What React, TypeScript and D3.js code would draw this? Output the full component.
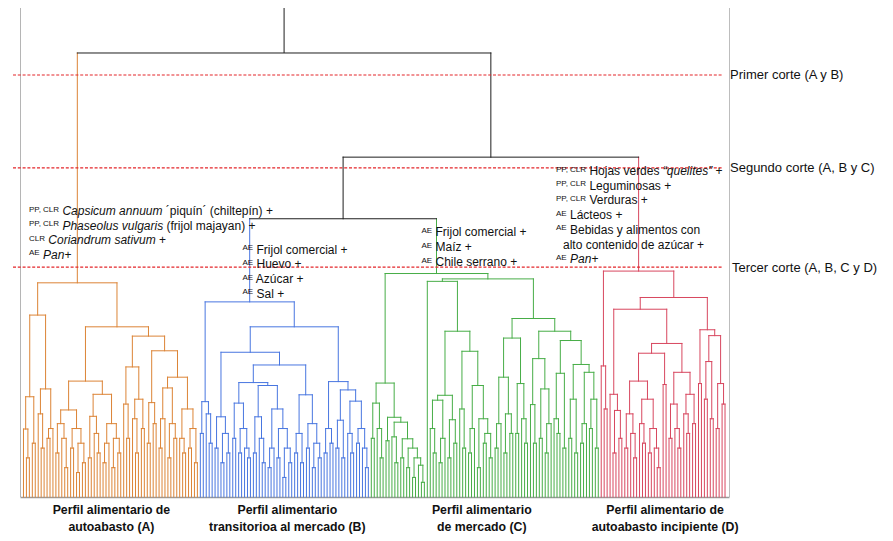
import React, { useMemo } from 'react';
import * as d3 from 'd3';

// dendrogram subtrees, newick-like: "(left,right)height", L = leaf. heights on a 0-100 scale
const A1 = '(((L,(L,L)8)13.9,(L,L)11)20.5,((L,(L,L)10)17,((L,L)12,L)14)22.1)37.2';
const A2a = '((((L,L)9,(L,(L,L)6)12)15,((L,L)10,((L,L)5,(L,L)7)11)14)17.8,(((L,L)8,(L,(L,L)9)13)16.5,(((L,L)7,L)11,((L,L)6,(L,L)9)12)15)21)23.7';
const A2b = '(((L,(L,L)12)19,((L,(L,L)9)16,(L,L)14)20)26.6,(((L,L)11,(L,L)15)19.3,((((L,L)10,L)16,((L,L)8,(L,L)12)15)22.3,((L,(L,L)9)12,((L,L)10,(L,L)7)14)18)24.5)29.9)32.9';
const treeA = `(${A1},(${A2a},${A2b})34.8)43.8`;

const B_left = '((L,L)13,(L,(L,L)11)17)19.5';
const B_a = '((L,L)10,((L,L)7,(L,L)9)13)16.4';
const B_b = '((L,L)12,((L,L)9,(L,(L,L)8)10)14)19.2';
const B_c = '((L,L)9,(L,(L,L)7)12)16.4';
const B_d = '(((L,L)6,L)10,((L,L)8,((L,L)4,(L,L)7)10)14)18';
const B_e = '(((L,L)9,(L,L)7)13,((L,L)10,((L,L)6,(L,L)8)11)15)20.9';
const B_f = '((L,L)9,(L,L)11)14';
const B_g = '((L,L)10,(L,L)8)15.7';
const B_h = '((L,(L,L)9)13,((L,L)11,(L,(L,L)6)10)14)19.6';
const treeB = `(${B_left},((${B_a},((${B_b},(${B_c},${B_d})22.8)23.4,${B_e})27)29.6,(${B_f},(${B_g},${B_h})21.9)23.6)34.8)39.9`;

const C_a = '((L,L)12,(L,(L,L)8)14)19.2';
const C_b = '((L,L)11.5,((L,(L,L)7)12.3,((L,L)8,((L,L)6,((L,L)4,(L,(L,L)3)6.5)8)10)11.9)15.3)16.3';
const C_c = '((L,(L,L)9)14,((L,L)7,L)12)19.8';
const C_d = '((L,L)8,(L,L)11)15.8';
const C_e = '(L,(L,L)10)18';
const C_f = '(((L,L)9,L)14,((L,L)6,((L,L)11,(L,L)8)13)16)22.8';
const C_g = '(((L,L)10,L)15,((L,L)9,(L,L)13)17)24.5';
const C_h = '((L,L)13,(L,(L,L)11)16)23.2';
const C_i = '(L,(L,L)11)18.9';
const C_j = '((L,L)12,((L,L)9,L)15)22.1';
const C_k = '((L,(L,L)13)16,(L,L)10)25.3';
const C_l = '((L,L)12,(L,L)9)20';
const C_m = '(((L,L)11,L)15,((L,L)14,(L,L)10)20)25.5';
const treeC = `((${C_a},${C_b})23.3,((L,((${C_c},${C_d})20.8,(${C_e},${C_f})29.8)33.9)44.1,((${C_g},${C_h})32.5,((${C_i},${C_j})28.3,(${C_k},(${C_l},${C_m})27.1)32)33.9)36.5)44.6)45.7`;

const D_a = '(L,(L,L)18)26.8';
const D_b = '(L,((L,L)9,(L,L)12)17.7)21';
const D_c = '(((L,L)10,(L,(L,L)8)13)17,((L,(L,L)11)15,((L,L)9,(L,(L,L)6)10)14)20)23.7';
const D_d = '(L,L)23';
const D_e = '(((L,L)12,(L,(L,L)10)14)19,((L,(L,L)13)17,(L,L)15)21)25.5';
const D_f = '(L,L)23.2';
const D_g = '((L,L)20,(L,L)16)27.7';
const D_h = '((L,L)14,(L,L)19)23.2';
const treeD = `(${D_a},((${D_b},((${D_c},${D_d})29.4,${D_e})31.4)38.4,(${D_f},(${D_g},${D_h})33)34.2)40.8)46.2`;

const clusterTrees = [treeA, treeB, treeC, treeD];
const clusterColors = ['#dc8436', '#4876e0', '#47ad47', '#d8475f'];
const clusterLabels = [
  ['Perfil alimentario de', 'autoabasto (A)'],
  ['Perfil alimentario', 'transitorioa al mercado (B)'],
  ['Perfil alimentario', 'de mercado (C)'],
  ['Perfil alimentario de', 'autoabasto incipiente (D)']
];
// merges above the clusters: B+C, (B,C)+D, A+resto
const upperHeights = [56.9, 69.5, 90.8];

const cutHeights = [86.3, 67.3, 47.0];
const cutLabels = ['Primer corte (A y B)', 'Segundo corte (A, B y C)', 'Tercer corte (A, B, C y D)'];

type Seg = [string, boolean];
type Line = [string, Seg[]];
const notesA: Line[] = [
  ['PP, CLR', [['Capsicum annuum', true], [' ´piquín´ (chiltepín) +', false]]],
  ['PP, CLR', [['Phaseolus vulgaris', true], [' (frijol majayan) +', false]]],
  ['CLR', [['Coriandrum sativum', true], [' +', false]]],
  ['AE', [['Pan', true], ['+', false]]]
];
const notesB: Line[] = [
  ['AE', [['Frijol comercial +', false]]],
  ['AE', [['Huevo +', false]]],
  ['AE', [['Azúcar +', false]]],
  ['AE', [['Sal +', false]]]
];
const notesC: Line[] = [
  ['AE', [['Frijol comercial +', false]]],
  ['AE', [['Maíz +', false]]],
  ['AE', [['Chile serrano +', false]]]
];
const notesD: Line[] = [
  ['PP, CLR', [['Hojas verdes ', false], ['“quelites”', true], [' +', false]]],
  ['PP, CLR', [['Leguminosas +', false]]],
  ['PP, CLR', [['Verduras +', false]]],
  ['AE', [['Lácteos +', false]]],
  ['AE', [['Bebidas y alimentos con', false]]],
  ['', [['alto contenido de azúcar +', false]]],
  ['AE', [['Pan', true], ['+', false]]]
];

interface TreeNode {
  h: number;
  cluster: number;
  children?: TreeNode[];
}

function parseTree(s: string, cluster: number): TreeNode {
  let i = 0;
  const read = (): TreeNode => {
    if (s[i] === '(') {
      i++;
      const children = [read()];
      while (s[i] === ',') {
        i++;
        children.push(read());
      }
      i++; // ')'
      let num = '';
      while (i < s.length && /[0-9.]/.test(s[i])) num += s[i++];
      return { h: +num, cluster, children };
    }
    i++;
    return { h: 0, cluster };
  };
  return read();
}

const FONT = 'Liberation Sans, Arial, Helvetica, sans-serif';

function NoteBlock(props: { x: number; y: number; step: number; lines: Line[] }) {
  return (
    <g fontFamily={FONT} fill="#111">
      {props.lines.map((ln, k) => {
        const [sup, segs] = ln;
        return (
          <text key={k} x={sup ? props.x : props.x + 7} y={props.y + k * props.step} fontSize={12}>
            {sup && (
              <tspan fontSize={8} dy={-3.5}>
                {sup}
              </tspan>
            )}
            {sup && <tspan dy={3.5}>{' '}</tspan>}
            {segs.map((s, j) => (
              <tspan key={j} fontStyle={s[1] ? 'italic' : 'normal'}>
                {s[0]}
              </tspan>
            ))}
          </text>
        );
      })}
    </g>
  );
}

export default function App(): JSX.Element {
  const W = 893;
  const H = 541;
  const xLeft = 22;
  const xRight = 726.5;
  const yBase = 497;
  const yTop = 8;

  const y = d3.scaleLinear().domain([0, 100]).range([yBase, yTop]);

  const layout = useMemo(() => {
    const [A, B, C, D] = clusterTrees.map((t, k) => parseTree(t, k));
    const rootData: TreeNode = {
      h: upperHeights[2],
      cluster: -1,
      children: [
        A,
        {
          h: upperHeights[1],
          cluster: -1,
          children: [{ h: upperHeights[0], cluster: -1, children: [B, C] }, D]
        }
      ]
    };
    const root = d3.hierarchy<TreeNode>(rootData, (d) => d.children);
    d3.cluster<TreeNode>()
      .size([xRight - xLeft, 1])
      .separation(() => 1)(root);

    const verts: { x: number; y1: number; y2: number; c: string }[] = [];
    const horiz: { x1: number; x2: number; y: number; c: string }[] = [];
    const colorOf = (k: number) => (k < 0 ? '#1e1e1e' : clusterColors[k]);
    const extents: [number, number][] = clusterTrees.map(() => [Infinity, -Infinity]);

    root.descendants().forEach((n) => {
      const nx = xLeft + (n.x as number);
      const c = colorOf(n.data.cluster);
      if (n.parent) {
        verts.push({ x: nx, y1: y(n.parent.data.h), y2: y(n.data.h), c });
      }
      if (n.children) {
        const xs = n.children.map((ch) => xLeft + (ch.x as number));
        horiz.push({ x1: d3.min(xs) as number, x2: d3.max(xs) as number, y: y(n.data.h), c });
      } else if (n.data.cluster >= 0) {
        const e = extents[n.data.cluster];
        e[0] = Math.min(e[0], nx);
        e[1] = Math.max(e[1], nx);
      }
    });
    return { verts, horiz, rootX: xLeft + (root.x as number), rootY: y(root.data.h), extents };
  }, []);

  return (
    <svg
      width={W}
      height={H}
      style={{ position: 'absolute', left: 0, top: 0, background: '#fff' }}
    >
      {/* frame */}
      <line x1={20.5} x2={20.5} y1={yTop} y2={yBase} stroke="#b5b5b5" strokeWidth={1} />
      <line x1={729.5} x2={729.5} y1={yTop} y2={yBase} stroke="#bdbdbd" strokeWidth={1} />
      <line x1={20.5} x2={729.5} y1={yBase + 0.5} y2={yBase + 0.5} stroke="#9a9a9a" strokeWidth={1.5} />

      {/* dendrogram */}
      <line x1={layout.rootX} x2={layout.rootX} y1={yTop} y2={layout.rootY} stroke="#1e1e1e" strokeWidth={1} />
      <g strokeWidth={1} strokeLinecap="square">
        {layout.verts.map((v, i) => (
          <line key={'v' + i} x1={v.x} x2={v.x} y1={v.y1} y2={v.y2} stroke={v.c} />
        ))}
        {layout.horiz.map((h, i) => (
          <line key={'h' + i} x1={h.x1} x2={h.x2} y1={h.y} y2={h.y} stroke={h.c} />
        ))}
      </g>

      {/* cut lines */}
      {cutHeights.map((ch, i) => (
        <g key={'cut' + i}>
          <line
            x1={13}
            x2={722}
            y1={y(ch)}
            y2={y(ch)}
            stroke="#e3262b"
            strokeWidth={1.2}
            strokeDasharray="3,1.8"
          />
          <text
            x={i === 2 ? 732 : 730}
            y={y(ch) + 4.5}
            fontFamily={FONT}
            fontSize={13}
            fill="#111"
          >
            {cutLabels[i]}
          </text>
        </g>
      ))}

      {/* annotations */}
      <NoteBlock x={29} y={215} step={14.5} lines={notesA} />
      <NoteBlock x={242.5} y={253.5} step={14.8} lines={notesB} />
      <NoteBlock x={421.5} y={236} step={15} lines={notesC} />
      <NoteBlock x={556} y={175} step={14.7} lines={notesD} />

      {/* cluster labels */}
      {clusterLabels.map((lab, k) => {
        const cx = (layout.extents[k][0] + layout.extents[k][1]) / 2 + [1, 3, -3, 2][k];
        return (
          <text
            key={'lab' + k}
            x={cx}
            y={514}
            textAnchor="middle"
            fontFamily={FONT}
            fontWeight="bold"
            fontSize={12.3}
            fill="#111"
          >
            <tspan x={cx}>{lab[0]}</tspan>
            <tspan x={cx} dy={16.8}>
              {lab[1]}
            </tspan>
          </text>
        );
      })}
    </svg>
  );
}
